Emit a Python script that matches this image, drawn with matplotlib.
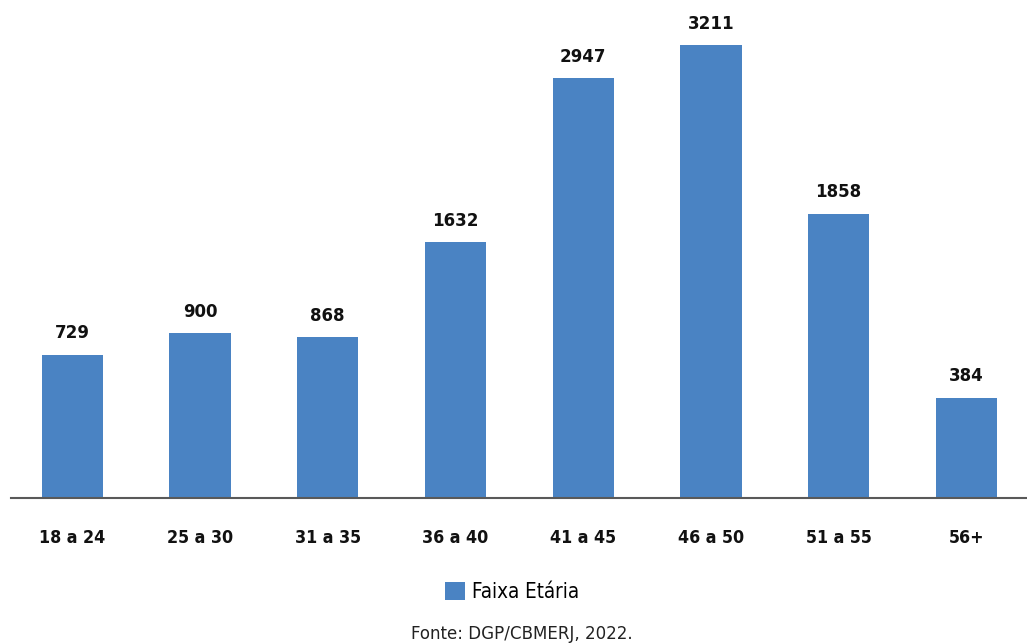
import matplotlib
matplotlib.use("Agg")
import matplotlib.pyplot as plt
from matplotlib.patches import Patch

categories = ["18 a 24", "25 a 30", "31 a 35", "36 a 40", "41 a 45", "46 a 50", "51 a 55", "56+"]
values = [729, 900, 868, 1632, 2947, 3211, 1858, 384]
series_name = "Faixa Etária"
source = "Fonte: DGP/CBMERJ, 2022."

BASE = -420
COLOR = "#4A83C3"
FONT = ["DejaVu Sans"]

W, H = 1027, 644
fig = plt.figure(figsize=(W / 100, H / 100), dpi=100)
ax = fig.add_axes([11 / W, 1 - 498 / H, (1027 - 11) / W, (498 - 0) / H])

x = list(range(len(categories)))
ax.bar(x, [v - BASE for v in values], bottom=BASE, width=0.48, color=COLOR, zorder=2)
ax.set_xlim(-0.48, 7.475)
ax.set_ylim(BASE, 3573)

for xi, v in zip(x, values):
    ax.annotate(f"{v}", (xi, v), xytext=(0, 9), textcoords="offset points",
                ha="center", va="bottom", fontsize=13.3, fontweight="bold",
                family=FONT, fontstretch="condensed", color="#111111")

for s in ["top", "right", "left"]:
    ax.spines[s].set_visible(False)
ax.spines["bottom"].set_color("#595959")
ax.spines["bottom"].set_linewidth(1.5)
ax.spines["bottom"].set_zorder(3)
ax.set_yticks([])
ax.set_xticks(x)
ax.set_xticklabels(categories, fontsize=12.8, fontweight="bold", family=FONT,
                   fontstretch="condensed", color="#111111")
ax.tick_params(axis="x", length=0, pad=22)

handle = Patch(facecolor=COLOR, edgecolor="none")
fig.legend([handle], [series_name], loc="center", bbox_to_anchor=(512 / W, 1 - 592 / H),
           frameon=False, prop={"family": FONT, "size": 14.8, "stretch": "condensed"},
           handlelength=1.0, handleheight=1.0, handletextpad=0.35)

fig.text(522 / W, 1 - 634 / H, source, ha="center", va="center", fontsize=13.3,
         family=FONT, fontstretch="condensed", color="#222222")

fig.savefig("out.png", dpi=100)
